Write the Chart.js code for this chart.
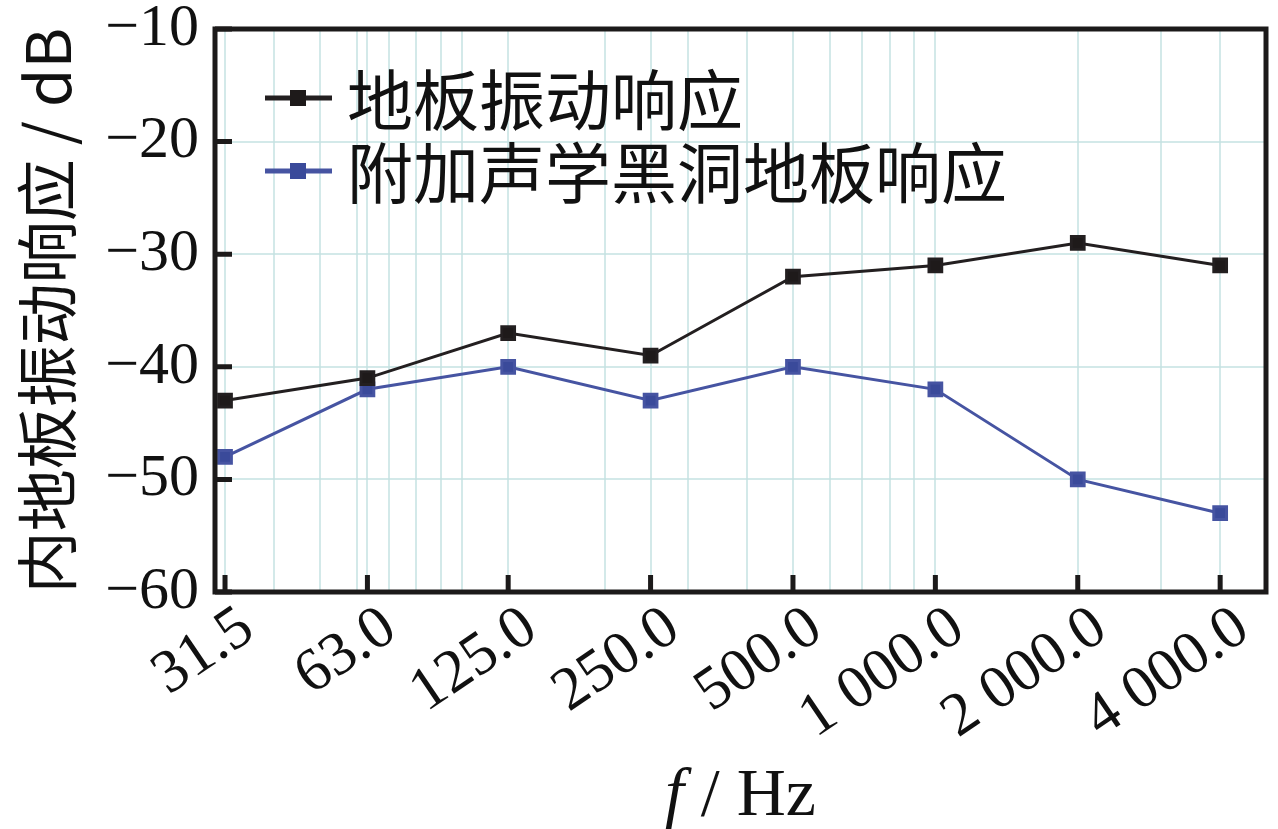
<!DOCTYPE html>
<html>
<head>
<meta charset="utf-8">
<script src="https://cdn.jsdelivr.net/npm/chart.js@4.4.1/dist/chart.umd.min.js"></script>
<style>
  body { margin: 0; background: #fff; }
  canvas { display: block; }
</style>
</head>
<body>
<canvas id="lineChart" width="1278" height="829"></canvas>
<script>
// data
var frequencies = [31.5, 63, 125, 250, 500, 1000, 2000, 4000];
var floorResponse = [-43, -41, -37, -39, -32, -31, -29, -31];
var blackHoleResponse = [-48, -42, -40, -43, -40, -42, -50, -53];
var seriesNames = ['地板振动响应', '附加声学黑洞地板响应'];
var minorGrid = [40, 50, 60, 70, 80, 90, 100, 200, 300, 400, 600, 700, 800, 900, 3000];
var yTicks = [-60, -50, -40, -30, -20, -10];

var serif = "'Liberation Serif', 'Noto Sans CJK SC'";
var cjk = "'Noto Sans CJK SC', 'Liberation Serif'";
var gridColor = 'rgba(196, 226, 226, 0.75)';
var frameColor = '#1c1a1a';

function fmtFreq(v) {
  var parts = v.toFixed(1).split('.');
  return parts[0].replace(/\B(?=(\d{3})+(?!\d))/g, ' ') + '.' + parts[1];
}

function toPoints(values) {
  return frequencies.map(function (f, i) { return { x: f, y: values[i] }; });
}

var allXTicks = frequencies.concat(minorGrid).sort(function (a, b) { return a - b; });

var framePlugin = {
  id: 'frame',
  afterDraw: function (chart) {
    var ctx = chart.ctx, a = chart.chartArea;
    var xs = chart.scales.x, ys = chart.scales.y;
    ctx.save();
    ctx.strokeStyle = frameColor;
    ctx.lineWidth = 5;
    ctx.strokeRect(a.left, a.top, a.right - a.left, a.bottom - a.top);
    // inward tick marks
    ctx.beginPath();
    frequencies.forEach(function (f) {
      var px = xs.getPixelForValue(f);
      ctx.moveTo(px, a.bottom);
      ctx.lineTo(px, a.bottom - 17);
    });
    yTicks.forEach(function (v) {
      var py = ys.getPixelForValue(v);
      ctx.moveTo(a.left, py);
      ctx.lineTo(a.left + 17, py);
    });
    ctx.stroke();

    // legend, top left inside the plot
    var rows = [98, 171];
    chart.data.datasets.forEach(function (ds, i) {
      var y = rows[i];
      ctx.strokeStyle = ds.borderColor;
      ctx.lineWidth = 5;
      ctx.beginPath();
      ctx.moveTo(a.left + 50, y);
      ctx.lineTo(a.left + 117, y);
      ctx.stroke();
      ctx.fillStyle = ds.backgroundColor;
      ctx.fillRect(a.left + 75, y - 8, 16, 16);
      ctx.fillStyle = '#111';
      ctx.font = '66px ' + cjk;
      ctx.textAlign = 'left';
      ctx.textBaseline = 'middle';
      ctx.fillText(ds.label, a.left + 132, y + 2);
    });

    // x axis title: italic f / Hz
    var cx = (a.left + a.right) / 2;
    var base = 815;
    ctx.fillStyle = '#111';
    ctx.textBaseline = 'alphabetic';
    ctx.font = 'italic 68px ' + serif;
    var w1 = ctx.measureText('f').width;
    ctx.font = '68px ' + serif;
    var w2 = ctx.measureText(' / Hz').width;
    var x0 = cx - (w1 + w2) / 2;
    ctx.textAlign = 'left';
    ctx.font = 'italic 68px ' + serif;
    ctx.fillText('f', x0, base);
    ctx.font = '68px ' + serif;
    ctx.fillText(' / Hz', x0 + w1, base);
    ctx.restore();
  }
};

var ctx = document.getElementById('lineChart').getContext('2d');
var myChart = new Chart(ctx, {
  type: 'line',
  data: {
    datasets: [{
      label: seriesNames[0],
      data: toPoints(floorResponse),
      borderColor: '#231f20',
      backgroundColor: '#1e1a1a',
      borderWidth: 3,
      pointStyle: 'rect',
      pointRadius: 9,
      fill: false
    }, {
      label: seriesNames[1],
      data: toPoints(blackHoleResponse),
      borderColor: '#4654a2',
      backgroundColor: '#3a4a9a',
      borderWidth: 3,
      pointStyle: 'rect',
      pointRadius: 9,
      fill: false
    }]
  },
  options: {
    responsive: false,
    animation: false,
    devicePixelRatio: 1,
    layout: { padding: { top: 29, right: -6, left: 0, bottom: 0 } },
    plugins: {
      legend: { display: false },
      tooltip: { enabled: false }
    },
    scales: {
      x: {
        type: 'logarithmic',
        min: 30,
        max: 5000,
        afterBuildTicks: function (s) {
          s.ticks = allXTicks.map(function (v) { return { value: v }; });
        },
        afterFit: function (s) {
          s.height = 237;
          s.paddingLeft = 0;
          s.paddingRight = 0;
        },
        border: { display: false },
        grid: { color: gridColor, lineWidth: 2, drawTicks: false },
        ticks: {
          autoSkip: false,
          minRotation: 34,
          maxRotation: 34,
          padding: 0,
          labelOffset: 23,
          color: '#111',
          font: { family: serif, size: 61 },
          callback: function (v) {
            return frequencies.indexOf(v) >= 0 ? fmtFreq(v) : '';
          }
        }
      },
      y: {
        min: -60,
        max: -10,
        afterFit: function (s) {
          s.width = 215;
          s.paddingTop = 0;
          s.paddingBottom = 0;
        },
        border: { display: false },
        grid: { color: gridColor, lineWidth: 2, drawTicks: false },
        ticks: {
          stepSize: 10,
          padding: 16,
          color: '#111',
          font: { family: serif, size: 60 },
          callback: function (v) { return v < 0 ? '\u2212' + Math.abs(v) : String(v); }
        },
        title: {
          display: true,
          text: '内地板振动响应 / dB',
          color: '#111',
          font: { family: cjk, size: 62 },
          padding: { top: 10, bottom: 0 }
        }
      }
    }
  },
  plugins: [framePlugin]
});
</script>
</body>
</html>
